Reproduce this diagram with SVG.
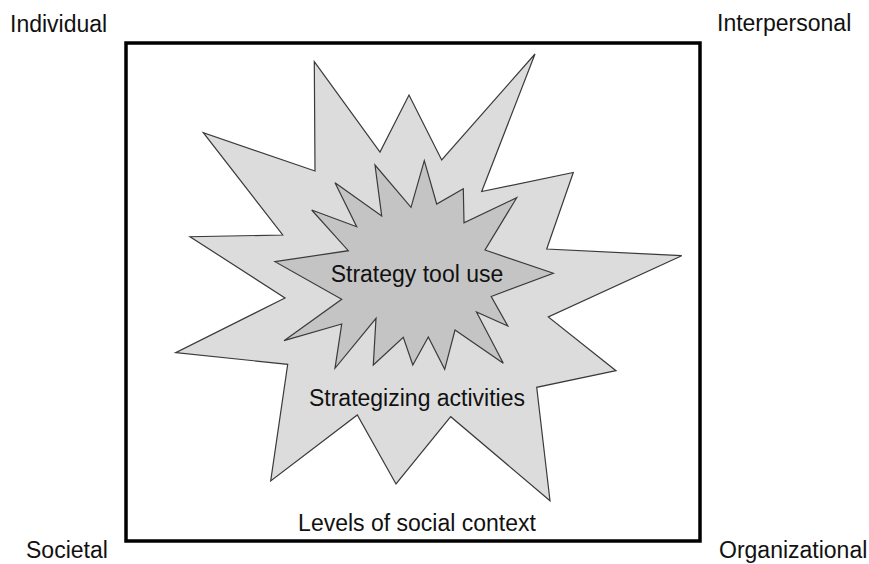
<svg xmlns="http://www.w3.org/2000/svg" width="869" height="564" viewBox="0 0 869 564">
  <style>
    .lbl { font-family: "Liberation Sans", Arial, sans-serif; font-size: 23px; fill: #111; }
    .mid { text-anchor: middle; }
    .burst { stroke: #3a3a3a; stroke-width: 1.2; stroke-linejoin: miter; }
  </style>
  <rect width="869" height="564" fill="#ffffff"/>

  <!-- corner labels -->
  <g id="corner-labels">
    <text class="lbl" x="10" y="31.5">Individual</text>
    <text class="lbl" x="717" y="31">Interpersonal</text>
    <text class="lbl" x="26" y="557.5">Societal</text>
    <text class="lbl" x="719" y="557.5">Organizational</text>
  </g>

  <!-- social context frame -->
  <g id="social-context">
    <rect x="126" y="43" width="574" height="498" fill="none" stroke="#000" stroke-width="3.5"/>
    <text class="lbl mid" x="417" y="530.5">Levels of social context</text>
  </g>

  <!-- strategizing activities burst -->
  <g id="strategizing-activities">
    <polygon class="burst" fill="#dcdcdc" points="314.3,61.7 380,152 409,95 441.7,160 535,54 481.7,191.5 573.3,172.5 546.7,249 681.7,255.7 548.3,317 616,370.7 536.7,387.3 550,500.7 450.7,416.7 396,484 357.3,415 270.7,481 287.7,364.3 175.7,352.7 285,298 190,236.7 282.7,235 203.3,132.7 315,171"/>
    <text class="lbl mid" x="417" y="406">Strategizing activities</text>
  </g>

  <!-- strategy tool use burst -->
  <g id="strategy-tool-use">
    <polygon class="burst" fill="#c4c4c4" points="275,261.7 348.3,250.7 311.7,210 356.7,226.7 335,182.7 381.7,216 375,165 411,207.3 424.3,160.7 436.7,204 463.3,188.7 464,222.7 516.7,197.7 485,250 553.3,273.3 491.2,296.5 507.8,326 476.5,312 503.3,363.3 455,330 444.7,369.3 428.3,337 412.8,365 403.3,337.3 373.3,365 376,318.3 335,368.3 341.7,324 284,340.7 341.7,299.3"/>
    <text class="lbl mid" x="417" y="281.5">Strategy tool use</text>
  </g>
</svg>
